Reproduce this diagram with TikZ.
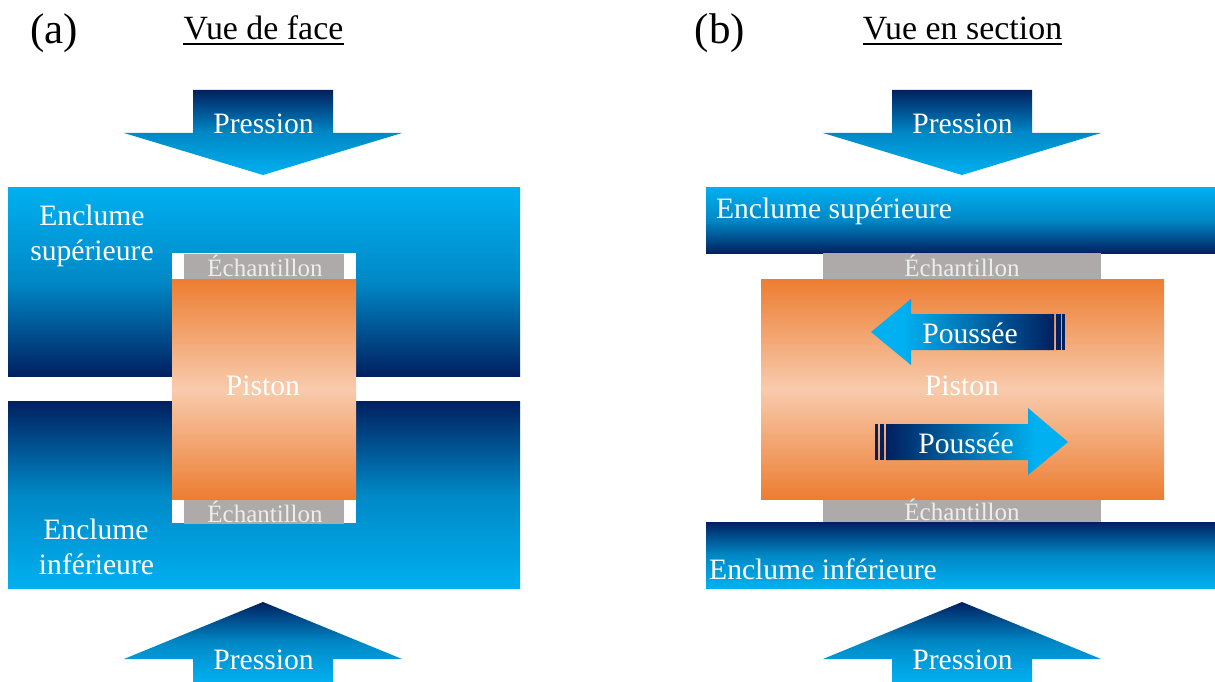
\documentclass[tikz,border=0pt]{standalone}
\usepackage{fontspec}
\setmainfont{Liberation Serif}
\usepackage{tikz}
\usetikzlibrary{positioning}

\definecolor{marine}{HTML}{002060}
\definecolor{cyanvif}{HTML}{00B0F0}
\definecolor{cyanmoy}{HTML}{0088C6}
\definecolor{orangevif}{HTML}{ED7D31}
\definecolor{orangeclair}{HTML}{F8CBAD}
\definecolor{gris}{HTML}{AEAAAA}

\pgfdeclarehorizontalshading{poussgauche}{100bp}{color(0bp)=(cyanvif); color(34bp)=(cyanvif); color(75bp)=(marine); color(100bp)=(marine)}
\pgfdeclarehorizontalshading{poussdroite}{100bp}{color(0bp)=(marine); color(25bp)=(marine); color(66bp)=(cyanvif); color(100bp)=(cyanvif)}

\begin{document}
\begin{tikzpicture}[x=1pt, y=-1pt]
\tikzstyle{blochaut} = [rectangle, inner sep=0pt, top color=cyanvif, bottom color=marine, middle color=cyanmoy]
\tikzstyle{blocbas} = [rectangle, inner sep=0pt, top color=marine, bottom color=cyanvif, middle color=cyanmoy]
\tikzstyle{piston} = [rectangle, inner sep=0pt, top color=orangevif, bottom color=orangevif, middle color=orangeclair]
\tikzstyle{ech} = [rectangle, inner sep=0pt, fill=gris, minimum height=25pt]
\tikzstyle{vide} = [rectangle, inner sep=0pt, fill=white]
\tikzstyle{fleche} = [top color=marine, bottom color=cyanvif, middle color=cyanmoy]
\tikzstyle{trait} = [fill=marine]
\tikzstyle{souligne} = [line width=1.6pt]
\tikzstyle{txt} = [anchor=base, inner sep=0pt, text=white, font=\fontsize{29.6}{35}\selectfont]
\tikzstyle{txtech} = [anchor=base, inner sep=0pt, text=white!93!black, font=\fontsize{25}{30}\selectfont]
\tikzstyle{titre} = [anchor=base, inner sep=0pt, text=black, font=\fontsize{33.9}{40}\selectfont]
\tikzstyle{lettre} = [anchor=base, inner sep=0pt, text=black, font=\fontsize{43}{50}\selectfont]

\useasboundingbox (0,0) rectangle (1215,682);

% Vue de face
\node[blochaut, minimum width=512pt, minimum height=189pt] (encsupa) at (264,281.6) {};
\node[blocbas, minimum width=512pt, minimum height=187pt] (encinfa) [below=24.7pt of encsupa] {};
\node[vide, minimum width=184pt, minimum height=270pt] (videa) at (264,388) {};
\node[ech, minimum width=160pt] (echsupa) at (264,266.5) {};
\node[ech, minimum width=160pt] (echinfa) at (264,511.5) {};
\node[piston, minimum width=184pt, minimum height=220pt] (pista) at (264,389) {};

% Vue en section
\node[blochaut, minimum width=509pt, minimum height=66pt] (encsupb) at (960.5,220) {};
\node[blocbas, minimum width=509pt, minimum height=66pt] (encinfb) at (960.5,555) {};
\node[ech, minimum width=278pt, minimum height=26pt] (echsupb) at (962,266) {};
\node[ech, minimum width=278pt, minimum height=23pt] (echinfb) at (962,510.5) {};
\node[piston, minimum width=403pt, minimum height=220pt] (pistb) at (962.5,389) {};

% Fleches de pression
\shade[fleche] (193,90) -- (333,90) -- (333,133) -- (402,133) -- (263,175) -- (124,133) -- (193,133) -- cycle;
\shade[fleche] (892,90) -- (1032,90) -- (1032,133) -- (1101,133) -- (962,175) -- (823,133) -- (892,133) -- cycle;
\shade[fleche] (263,602) -- (402,659) -- (333,659) -- (333,682) -- (193,682) -- (193,659) -- (124,659) -- cycle;
\shade[fleche] (962,602) -- (1101,659) -- (1032,659) -- (1032,682) -- (892,682) -- (892,659) -- (823,659) -- cycle;

% Fleches de poussee
\shade[shading=poussgauche] (871,332) -- (911,299) -- (911,314) -- (1054,314) -- (1054,350) -- (911,350) -- (911,365) -- cycle;
\fill[trait] (1056,314) rectangle (1061,350);
\fill[trait] (1062,314) rectangle (1065,350);
\shade[shading=poussdroite] (1068,442) -- (1028,408) -- (1028,424) -- (886,424) -- (886,460) -- (1028,460) -- (1028,475) -- cycle;
\fill[trait] (875,424) rectangle (878,460);
\fill[trait] (880,424) rectangle (884,460);

% Textes
\node[lettre] (a) at (54,44) {(a)};
\node[lettre] (b) at (720,44) {(b)};
\node[titre] (vuea) at (263.5,40) {Vue de face};
\node[titre] (vueb) at (962.5,40) {Vue en section};
\draw[souligne] ([yshift=-4.2pt]vuea.base west) -- ([yshift=-4.2pt]vuea.base east);
\draw[souligne] ([yshift=-4.2pt]vueb.base west) -- ([yshift=-4.2pt]vueb.base east);
\node[txt] (pressa) at (263.5,134) {Pression};
\node[txt] (pressb) at (962.5,134) {Pression};
\node[txt] (pressc) at (263.5,669) {Pression};
\node[txt] (pressd) at (962.5,669) {Pression};
\node[txt] (enca) at (92,225) {Enclume};
\node[txt] (supa) at (92,260) {supérieure};
\node[txt] (encc) at (96,539.5) {Enclume};
\node[txt] (infa) at (96.5,574.5) {inférieure};
\node[txt] (encb) at (834,218) {Enclume supérieure};
\node[txt] (encd) at (823,579) {Enclume inférieure};
\node[txtech] (txtecha) at (265,276) {Échantillon};
\node[txtech] (txtechb) at (265,522) {Échantillon};
\node[txtech] (txtechc) at (962,276) {Échantillon};
\node[txtech] (txtechd) at (962,520) {Échantillon};
\node[txt] (txtpista) at (263,395) {Piston};
\node[txt] (txtpistb) at (962,395) {Piston};
\node[txt] (pousa) at (970,343) {Poussée};
\node[txt] (pousb) at (966,453) {Poussée};

\end{tikzpicture}
\end{document}
